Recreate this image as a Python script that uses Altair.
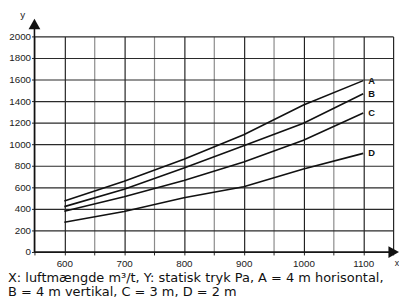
import altair as alt
import pandas as pd

airflow = [600, 700, 800, 900, 1000, 1100]
curve_a = [473, 657, 861, 1088, 1364, 1590]
curve_b = [421, 582, 779, 985, 1194, 1468]
curve_c = [379, 512, 664, 834, 1036, 1290]
curve_d = [276, 376, 503, 606, 770, 915]
series_names = ["A", "B", "C", "D"]
x_ticks = list(range(550, 1151, 50))
y_ticks = list(range(0, 2001, 200))
caption = [
    "X: luftmængde m³/t, Y: statisk tryk Pa, A = 4 m horisontal,",
    "B = 4 m vertikal, C = 3 m, D = 2 m",
]

rows = []
for name, vals in zip(series_names, [curve_a, curve_b, curve_c, curve_d]):
    for xv, yv in zip(airflow, vals):
        rows.append({"x": xv, "y": yv, "s": name})
df = pd.DataFrame(rows)
one = pd.DataFrame({"k": [0]})

FONT = "Liberation Sans"
xs = alt.Scale(domain=[550, 1150], nice=False, zero=False)
ys = alt.Scale(domain=[0, 2000], nice=False)

x_axis = alt.Axis(
    values=x_ticks, tickCount=40, title=None, grid=True,
    gridColor={"condition": {"test": "datum.value % 100 === 0 || datum.value === 1150", "value": "#222"}, "value": "#8a8a8a"},
    gridWidth=1.2, gridOpacity=1, labelOverlap=False,
    labelExpr="datum.value % 100 === 0 && datum.value < 1150 ? datum.label : ''",
    format="d", domain=False, tickColor="#222", tickSize=3, tickWidth=1,
    labelFontSize=10, labelFont=FONT, labelColor="#222", labelPadding=4,
)
y_axis = alt.Axis(
    values=y_ticks, tickCount=40, title=None, grid=True, gridColor="#2a2a2a", gridWidth=1.2,
    gridOpacity=1, format="d", domain=False, tickColor="#222", tickSize=3,
    labelOverlap=False,
    labelFontSize=10, labelFont=FONT, labelColor="#222", labelPadding=1,
)

lines = alt.Chart(df).mark_line(color="#111", strokeWidth=1.6).encode(
    x=alt.X("x:Q", scale=xs, axis=x_axis),
    y=alt.Y("y:Q", scale=ys, axis=y_axis),
    detail="s:N",
)

labels = alt.Chart(df).transform_filter("datum.x === 1100").mark_text(
    align="left", baseline="middle", dx=5, fontSize=9.5, fontWeight="bold", font=FONT, color="#111"
).encode(x="x:Q", y="y:Q", text="s:N")

y_line = alt.Chart(one).mark_rule(color="#111", strokeWidth=1.6).encode(
    x=alt.datum(550), y=alt.datum(0), y2=alt.datum(2100)
)
x_line = alt.Chart(one).mark_rule(color="#111", strokeWidth=1.6).encode(
    x=alt.datum(550), x2=alt.datum(1148), y=alt.datum(0)
)
y_arrow = alt.Chart(one).mark_point(
    shape="M0,-1L1,0.8L-1,0.8Z", size=144, filled=True, color="#111", opacity=1
).encode(x=alt.datum(550), y=alt.datum(2110))
x_arrow = alt.Chart(one).mark_point(
    shape="M1,0L-0.8,1L-0.8,-1Z", size=144, filled=True, color="#111", opacity=1
).encode(x=alt.datum(1150), y=alt.datum(0))
y_lab = alt.Chart(one).mark_text(
    text="y", fontSize=10, font=FONT, color="#222", dx=-12, dy=-6
).encode(x=alt.datum(550), y=alt.datum(2140))
x_lab = alt.Chart(one).mark_text(
    text="x", fontSize=9, font=FONT, color="#222", dx=4, dy=11
).encode(x=alt.datum(1150), y=alt.datum(0))

chart = alt.layer(lines, labels, y_line, x_line, y_arrow, x_arrow, y_lab, x_lab).properties(
    width=366, height=220,
    padding={"left": 27, "top": 26, "right": 6, "bottom": 47},
    autosize=alt.AutoSizeParams(type="none"),
    title=alt.TitleParams(
        text=caption, orient="bottom", anchor="start", align="left", frame="group", dx=-27, offset=4,
        fontSize=13.2, font="DejaVu Sans", fontWeight="normal", color="#111",
        lineHeight=13.5, baseline="top",
    ),
).configure_view(strokeWidth=0)

chart.save("out.html", embed_options={"renderer": "svg", "actions": False})
